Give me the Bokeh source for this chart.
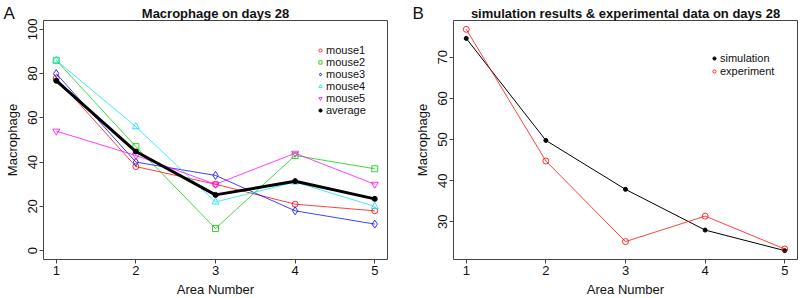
import math
from bokeh.plotting import figure
from bokeh.layouts import row
from bokeh.models import (Range1d, FixedTicker, Legend, LegendItem, Title,
                          ColumnDataSource)
from bokeh.embed import file_html
from bokeh.resources import INLINE

# ---------------- data ----------------
areas = [1, 2, 3, 4, 5]
mouse1 = [78, 38, 30, 21, 18]
mouse2 = [86, 47, 10, 43, 37]
mouse3 = [80, 40, 34, 18, 12]
mouse4 = [86, 56, 22, 31, 20]
mouse5 = [54, 43, 30, 44, 30]
average = [76.8, 44.8, 25.2, 31.4, 23.4]

simulation = [74.6, 49.8, 37.9, 28.0, 23.0]
experiment = [76.8, 44.8, 25.2, 31.4, 23.4]

x_ticks = [1, 2, 3, 4, 5]
yA_ticks = [0, 20, 40, 60, 80, 100]
yB_ticks = [30, 40, 50, 60, 70]

titleA = "Macrophage on days 28"
titleB = "simulation results & experimental data on days 28"
xlabel = "Area Number"
ylabel = "Macrophage"

FONT = "Liberation Sans"
TXT = "#111111"
FRAME_H = 239


def r_range(lo, hi):
    d = (hi - lo) * 0.04
    return Range1d(lo - d, hi + d)


def style(p, yticks):
    p.outline_line_color = "#444444"
    p.outline_line_width = 1
    p.grid.visible = False
    p.background_fill_color = "white"
    p.border_fill_color = "white"
    for ax in (p.xaxis[0], p.yaxis[0]):
        ax.axis_line_color = None
        ax.major_tick_line_color = "#444444"
        ax.major_tick_out = 4
        ax.major_tick_in = 0
        ax.minor_tick_line_color = None
        ax.major_label_text_font = FONT
        ax.major_label_text_font_size = "13px"
        ax.major_label_text_color = TXT
        ax.axis_label_text_font = FONT
        ax.axis_label_text_font_size = "13px"
        ax.axis_label_text_font_style = "normal"
        ax.axis_label_text_color = TXT
        ax.major_label_standoff = 2
        ax.axis_label_standoff = 4
    p.yaxis[0].axis_label_standoff = 6
    p.xaxis[0].ticker = FixedTicker(ticks=x_ticks)
    p.yaxis[0].ticker = FixedTicker(ticks=yticks)
    p.yaxis[0].major_label_orientation = "vertical"
    p.xaxis[0].axis_label = xlabel
    p.yaxis[0].axis_label = ylabel


def add_titles(p, letter, letter_off, title):
    # main title: adjacent to the frame
    p.add_layout(Title(text=title, align="center", text_font=FONT,
                       text_font_size="13px", text_font_style="bold",
                       text_color=TXT, standoff=0), "above")
    # panel letter: rendered after the "above" list, takes no extra room
    p.title = Title(text=letter, align="left", offset=letter_off,
                    text_font=FONT, text_font_size="17px",
                    text_font_style="normal", text_color=TXT,
                    standoff=-38, vertical_align="bottom")


# ---------------- panel A ----------------
FWA = 344
pA = figure(frame_width=FWA, frame_height=FRAME_H, output_backend="svg",
            toolbar_location=None, min_border_left=43, min_border_right=13,
            min_border_top=20, min_border_bottom=39,
            x_range=r_range(1, 5), y_range=r_range(0, 100))
style(pA, yA_ticks)

seriesA = [
    ("mouse1", mouse1, "#FF0000", "circle", 6),
    ("mouse2", mouse2, "#00CD00", "square", 6),
    ("mouse3", mouse3, "#0000FF", "diamond", 8),
    ("mouse4", mouse4, "#00E5EE", "triangle", 7),
    ("mouse5", mouse5, "#FF00FF", "inverted_triangle", 7),
]
itemsA = []
for name, ys, col, mk, sz in seriesA:
    src = ColumnDataSource(dict(x=areas, y=ys))
    pA.line("x", "y", source=src, line_color=col, line_width=1, line_alpha=0.75)
    r = pA.scatter("x", "y", source=src, marker=mk, size=sz, fill_color=None,
                   line_color=col, line_width=1, line_alpha=0.8)
    itemsA.append(LegendItem(label=name, renderers=[r]))
srcAvg = ColumnDataSource(dict(x=areas, y=average))
pA.line("x", "y", source=srcAvg, line_color="black", line_width=3)
rAvg = pA.scatter("x", "y", source=srcAvg, marker="circle", size=5,
                  fill_color="black", line_color="black")
itemsA.append(LegendItem(label="average", renderers=[rAvg]))

legA = Legend(items=itemsA, location=(273, 143), border_line_color=None,
              background_fill_alpha=0, label_text_font=FONT,
              label_text_font_size="11px", label_text_color=TXT,
              glyph_width=8, glyph_height=12, label_height=12, spacing=0,
              padding=2, label_standoff=2, margin=0)
pA.add_layout(legA, "center")
add_titles(pA, "A", -40, titleA)

# ---------------- panel B ----------------
FWB = 344
lo = min(simulation + experiment)
hi = max(simulation + experiment)
pB = figure(frame_width=FWB, frame_height=FRAME_H, output_backend="svg",
            toolbar_location=None, min_border_left=53, min_border_right=3,
            min_border_top=20, min_border_bottom=39,
            x_range=r_range(1, 5), y_range=r_range(lo, hi))
style(pB, yB_ticks)

srcS = ColumnDataSource(dict(x=areas, y=simulation))
srcE = ColumnDataSource(dict(x=areas, y=experiment))
pB.line("x", "y", source=srcS, line_color="black", line_width=1)
rS = pB.scatter("x", "y", source=srcS, marker="circle", size=4,
                fill_color="black", line_color="black")
pB.line("x", "y", source=srcE, line_color="#FF0000", line_width=1, line_alpha=0.75)
rE = pB.scatter("x", "y", source=srcE, marker="circle", size=6, fill_color=None,
                line_color="#FF0000", line_alpha=0.8)

legB = Legend(items=[LegendItem(label="simulation", renderers=[rS]),
                     LegendItem(label="experiment", renderers=[rE])],
              location=(257, 182), border_line_color=None,
              background_fill_alpha=0, label_text_font=FONT,
              label_text_font_size="11px", label_text_color=TXT,
              glyph_width=8, glyph_height=12, label_height=12, spacing=1,
              padding=2, label_standoff=2, margin=0)
pB.add_layout(legB, "center")
add_titles(pB, "B", -41, titleB)

layout = row(pA, pB)
open("out.html", "w").write(file_html(layout, INLINE))
